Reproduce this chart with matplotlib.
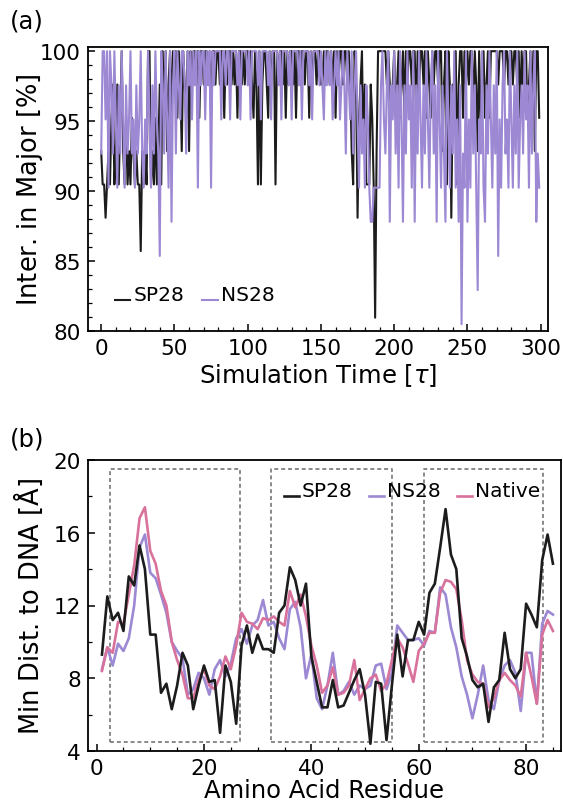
import numpy as np
import matplotlib
matplotlib.use("Agg")
import matplotlib.pyplot as plt
from matplotlib.legend_handler import HandlerLine2D
from matplotlib.ticker import MultipleLocator

plt.rcParams['font.family'] = ['DejaVu Sans']
plt.rcParams['mathtext.fontset'] = 'dejavusans'

# ---------------- panel (a): major-groove interactions over time ----------------
time_tau = list(range(300))
SP28_TOTAL = 42
NS28_TOTAL = 41
# number of contacts NOT in the major groove at each frame
sp28_out = [
    3, 4, 4, 5, 4, 3, 4, 2, 1, 4,
    3, 1, 4, 2, 0, 3, 4, 2, 4, 3,
    4, 2, 3, 4, 3, 4, 4, 6, 3, 4,
    3, 4, 0, 0, 4, 3, 4, 2, 4, 3,
    1, 4, 0, 2, 0, 3, 1, 0, 2, 0,
    1, 0, 2, 0, 1, 3, 0, 1, 2, 0,
    3, 0, 1, 0, 0, 1, 0, 2, 0, 0,
    1, 0, 0, 1, 0, 2, 0, 0, 1, 0,
    0, 1, 0, 0, 2, 0, 1, 0, 0, 1,
    0, 1, 0, 2, 0, 0, 1, 0, 1, 0,
    0, 1, 0, 1, 2, 0, 1, 4, 0, 4,
    1, 0, 0, 1, 2, 0, 1, 0, 0, 4,
    0, 1, 0, 0, 1, 0, 2, 0, 1, 0,
    0, 1, 0, 2, 0, 0, 1, 0, 0, 1,
    0, 0, 2, 0, 1, 0, 0, 1, 0, 0,
    1, 1, 0, 1, 0, 0, 1, 0, 1, 0,
    2, 0, 1, 0, 0, 1, 0, 0, 1, 0,
    1, 3, 4, 0, 1, 5, 2, 1, 0, 3,
    1, 4, 4, 4, 1, 2, 4, 8, 3, 0,
    0, 0, 0, 0, 0, 1, 0, 1, 2, 1,
    0, 2, 1, 0, 2, 1, 0, 2, 0, 1,
    0, 0, 1, 0, 0, 2, 0, 1, 0, 0,
    1, 0, 2, 0, 1, 2, 0, 1, 0, 0,
    1, 0, 0, 3, 1, 0, 4, 0, 1, 5,
    1, 2, 0, 4, 1, 0, 0, 2, 0, 1,
    0, 1, 0, 0, 2, 0, 1, 3, 0, 2,
    1, 0, 2, 1, 0, 2, 0, 0, 0, 0,
    0, 1, 0, 0, 0, 1, 0, 0, 1, 0,
    0, 1, 0, 0, 1, 0, 2, 0, 1, 0,
    0, 2, 1, 0, 2, 0, 3, 0, 0, 2,
]
ns28_out = [
    3, 0, 0, 2, 0, 4, 0, 1, 3, 0,
    2, 4, 1, 3, 0, 2, 4, 1, 3, 2,
    0, 3, 2, 4, 1, 3, 2, 0, 3, 4,
    2, 3, 0, 2, 4, 1, 3, 0, 2, 3,
    6, 0, 1, 3, 0, 2, 4, 0, 5, 1,
    0, 3, 0, 1, 2, 0, 0, 1, 3, 0,
    1, 0, 2, 0, 1, 0, 4, 0, 1, 0,
    0, 2, 0, 1, 0, 4, 0, 1, 0, 0,
    0, 0, 2, 0, 0, 1, 0, 0, 2, 0,
    0, 0, 0, 1, 0, 2, 0, 0, 0, 0,
    1, 0, 2, 0, 0, 0, 0, 1, 0, 2,
    0, 0, 0, 0, 1, 0, 2, 0, 0, 0,
    0, 1, 0, 2, 0, 0, 0, 0, 1, 0,
    2, 0, 0, 0, 0, 1, 0, 2, 0, 0,
    0, 0, 1, 0, 2, 0, 0, 0, 0, 1,
    0, 1, 2, 0, 1, 0, 1, 0, 2, 1,
    0, 1, 0, 2, 1, 0, 1, 3, 0, 1,
    2, 0, 3, 1, 0, 2, 4, 1, 3, 2,
    4, 1, 2, 4, 5, 5, 4, 4, 4, 4,
    4, 1, 0, 2, 3, 1, 0, 5, 1, 2,
    0, 3, 1, 4, 0, 2, 5, 1, 3, 0,
    2, 1, 4, 0, 5, 1, 3, 0, 2, 4,
    1, 3, 0, 2, 4, 1, 0, 3, 1, 5,
    0, 2, 4, 1, 3, 5, 0, 2, 4, 1,
    3, 0, 4, 2, 5, 1, 8, 3, 4, 0,
    5, 2, 4, 0, 3, 1, 4, 7, 2, 3,
    0, 4, 5, 1, 3, 0, 2, 4, 1, 3,
    0, 6, 2, 4, 1, 0, 3, 2, 4, 0,
    2, 4, 1, 3, 0, 4, 2, 1, 3, 0,
    2, 1, 4, 0, 3, 1, 0, 5, 3, 4,
]
sp28_major = 100.0 * (SP28_TOTAL - np.array(sp28_out)) / SP28_TOTAL
ns28_major = 100.0 * (NS28_TOTAL - np.array(ns28_out)) / NS28_TOTAL

# ---------------- panel (b): minimum distance to DNA per residue ----------------
residue = list(range(1, 86))
sp28_dist = [
    9.3, 12.5, 11.2, 11.6, 10.6, 13.6, 13.1, 15.3, 14.0, 10.4,
    10.4, 7.2, 7.7, 6.3, 7.6, 9.4, 8.7, 6.3, 7.6, 8.7,
    7.8, 7.9, 5.0, 8.7, 7.8, 5.5, 9.8, 10.9, 9.4, 10.4,
    9.6, 9.6, 9.4, 11.6, 12.0, 14.1, 13.4, 12.0, 13.2, 9.2,
    7.8, 6.4, 6.4, 7.9, 6.4, 6.5, 7.2, 7.9, 8.5, 7.1,
    4.4, 7.8, 7.7, 4.6, 7.6, 10.4, 8.1, 10.1, 10.1, 11.1,
    10.4, 12.7, 13.2, 15.2, 17.3, 14.8, 14.0, 10.2, 9.2, 7.9,
    7.5, 7.7, 5.6, 7.5, 7.9, 10.5, 8.5, 8.0, 8.5, 12.1,
    11.5, 10.8, 14.5, 15.9, 14.3,
]
ns28_dist = [
    8.5, 9.7, 8.7, 9.9, 9.5, 10.2, 12.0, 15.2, 15.9, 13.8,
    13.5, 12.6, 11.6, 10.0, 9.5, 9.1, 7.1, 7.4, 8.3, 8.0,
    7.1, 8.5, 9.0, 8.1, 8.8, 10.2, 10.7, 9.9, 10.9, 11.2,
    12.3, 10.9, 11.1, 10.2, 9.6, 11.8, 12.2, 10.8, 8.0, 9.3,
    6.9, 6.3, 7.6, 9.4, 7.1, 7.3, 7.8, 7.1, 7.6, 7.4,
    7.6, 8.7, 8.8, 7.4, 8.3, 10.9, 10.5, 10.1, 10.1, 10.2,
    9.8, 10.6, 10.5, 13.0, 12.6, 10.8, 9.7, 8.1, 7.1, 5.8,
    7.1, 8.7, 6.8, 6.3, 7.9, 8.7, 9.0, 8.3, 6.2, 9.4,
    9.4, 6.6, 11.0, 11.7, 11.5,
]
native_dist = [
    8.4, 9.7, 9.4, 11.1, 11.0, 12.6, 14.2, 16.8, 17.4, 15.0,
    14.3, 12.8, 12.0, 10.0, 9.0, 8.2, 6.9, 6.9, 7.9, 8.5,
    7.6, 7.4, 8.1, 9.2, 8.5, 9.8, 11.6, 11.1, 11.0, 10.7,
    11.3, 11.2, 11.4, 11.1, 10.9, 12.8, 11.9, 12.6, 11.4, 9.8,
    8.7, 7.2, 7.6, 8.6, 7.1, 7.2, 7.6, 9.0, 6.8, 7.4,
    8.0, 8.2, 7.3, 7.7, 9.0, 10.2, 9.7, 8.8, 7.8, 9.5,
    9.9, 10.5, 10.5, 12.7, 13.4, 13.3, 12.9, 11.2, 9.0, 8.2,
    7.8, 7.7, 6.4, 6.9, 7.9, 8.3, 7.9, 7.6, 7.0, 9.4,
    8.1, 6.6, 10.4, 11.2, 10.6,
]
# DNA-binding regions (residue ranges) outlined by dashed boxes
region_start = [2.5, 32.5, 61.0]
region_end = [26.7, 55.0, 83.2]
region_low, region_high = 4.5, 19.5

C_SP = '#1c1c1c'
C_NS = '#9c88d3'
C_NAT = '#d8719b'

FS_TICK = 15.5
FS_XLABEL = 17.5
FS_YLABEL = 18.5
FS_LEG = 14.5


class BaselineLine(HandlerLine2D):
    """Legend line drawn at the text baseline, like an underscore."""
    def create_artists(self, legend, orig_handle, xdescent, ydescent,
                       width, height, fontsize, trans):
        arts = super().create_artists(legend, orig_handle, xdescent, ydescent,
                                      width, height, fontsize, trans)
        for a in arts:
            a.set_ydata(np.full_like(np.asarray(a.get_ydata(), float), 0.0))
        return arts


def style_axes(ax):
    for s in ax.spines.values():
        s.set_linewidth(1.3)
    ax.tick_params(which='both', direction='in', top=False, right=False,
                   labelsize=FS_TICK, pad=5)
    ax.tick_params(which='major', length=5, width=1.1)
    ax.tick_params(which='minor', length=3, width=0.9)


fig = plt.figure(figsize=(5.63, 8.04), dpi=100)
W, H = 563.0, 804.0
ax1 = fig.add_axes([88 / W, 1 - 332 / H, (548 - 88) / W, (332 - 48) / H])
ax2 = fig.add_axes([88 / W, 1 - 752 / H, (561 - 88) / W, (752 - 461) / H])

# panel (a)
l1, = ax1.plot(time_tau, sp28_major, color=C_SP, lw=1.5, label='SP28')
l2, = ax1.plot(time_tau, ns28_major, color=C_NS, lw=1.5, label='NS28')
ax1.set_xlim(-9, 305)
ax1.set_ylim(80, 100.3)
ax1.xaxis.set_major_locator(MultipleLocator(50))
ax1.xaxis.set_minor_locator(MultipleLocator(10))
ax1.yaxis.set_major_locator(MultipleLocator(5))
ax1.yaxis.set_minor_locator(MultipleLocator(1))
style_axes(ax1)
ax1.set_xlabel(r'Simulation Time $[\tau]$', fontsize=FS_XLABEL, labelpad=2)
ax1.set_ylabel(r'Inter. in Major $[\%]$', fontsize=FS_YLABEL)
ax1.yaxis.set_label_coords(-0.094, 0.5)
ax1.legend(handles=[l1, l2], loc='lower left', bbox_to_anchor=(0.02, 0.03),
           ncol=2, frameon=False, fontsize=FS_LEG, handlelength=0.75,
           handletextpad=0.15, columnspacing=0.9,
           handler_map={matplotlib.lines.Line2D: BaselineLine()})

# panel (b)
for x0, x1 in zip(region_start, region_end):
    ax2.plot([x0, x1, x1, x0, x0],
             [region_low, region_low, region_high, region_high, region_low],
             color='#808080', lw=1.3, ls=(0, (2.2, 1.6)), zorder=1)
m1, = ax2.plot(residue, sp28_dist, color=C_SP, lw=1.9, label='SP28', zorder=3)
m2, = ax2.plot(residue, ns28_dist, color=C_NS, lw=1.9, label='NS28', zorder=2)
m3, = ax2.plot(residue, native_dist, color=C_NAT, lw=1.9, label='Native', zorder=2.5)
ax2.set_xlim(-1.6, 86.5)
ax2.set_ylim(4, 20)
ax2.xaxis.set_major_locator(MultipleLocator(20))
ax2.xaxis.set_minor_locator(MultipleLocator(5))
ax2.yaxis.set_major_locator(MultipleLocator(4))
ax2.yaxis.set_minor_locator(MultipleLocator(2))
style_axes(ax2)
ax2.set_xlabel('Amino Acid Residue', fontsize=FS_XLABEL, labelpad=0)
ax2.set_ylabel(r'Min Dist. to DNA $[\mathrm{\AA}]$', fontsize=FS_YLABEL)
ax2.yaxis.set_label_coords(-0.091, 0.5)
ax2.legend(handles=[m1, m2, m3], loc='upper left', bbox_to_anchor=(0.375, 0.99),
           ncol=3, frameon=False, fontsize=FS_LEG, handlelength=0.75,
           handletextpad=0.15, columnspacing=0.8,
           handler_map={matplotlib.lines.Line2D: BaselineLine()})

fig.text(10 / W, 1 - 22 / H, '(a)', fontsize=FS_XLABEL, va='center', ha='left')
fig.text(10 / W, 1 - 440 / H, '(b)', fontsize=FS_XLABEL, va='center', ha='left')

fig.savefig('out.png', dpi=100)
